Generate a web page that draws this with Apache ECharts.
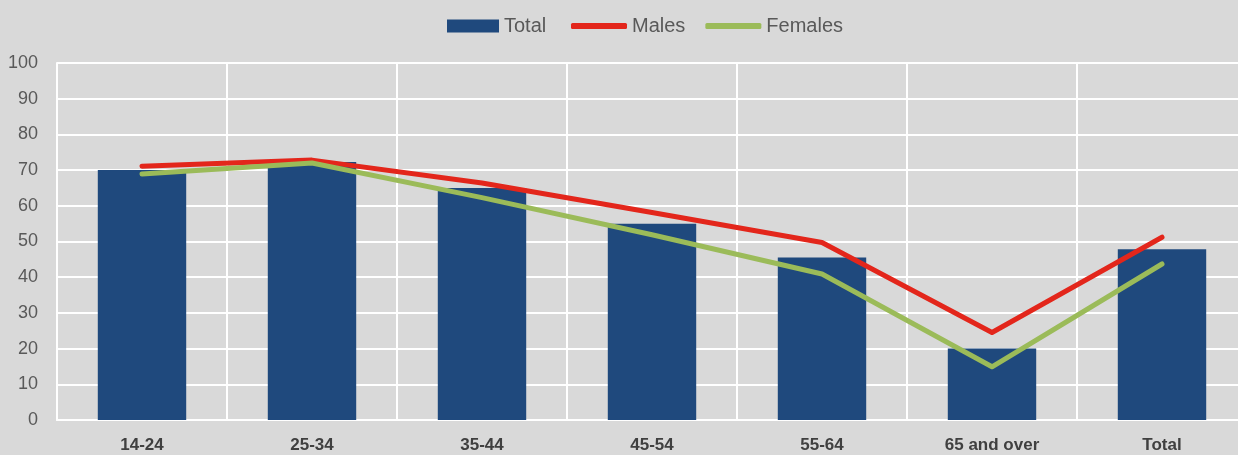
<!DOCTYPE html>
<html>
<head>
<meta charset="utf-8">
<script src="https://cdn.jsdelivr.net/npm/echarts@6/dist/echarts.min.js"></script>
<style>
  html, body { margin: 0; padding: 0; background: #d9d9d9; }
  #chart { width: 1238px; height: 455px; }
</style>
</head>
<body>
<div id="chart"></div>
<script>
// Age groups on the category axis
const categories = ['14-24', '25-34', '35-44', '45-54', '55-64', '65 and over', 'Total'];
// Rates (%) by age group
const totalValues = [70, 72.3, 65, 55, 45.5, 20, 47.8];
const maleValues = [71.1, 72.8, 66.4, 58.1, 49.7, 24.5, 51.2];
const femaleValues = [68.9, 72, 62.3, 51.9, 40.9, 14.9, 43.7];
const yTicks = { min: 0, max: 100, interval: 10 };

const fontFamily = '"Liberation Sans Narrow", "Arial Narrow", "Liberation Sans", Arial, sans-serif';
const legendText = { fontFamily: fontFamily, fontSize: 20, color: '#595959' };

const chart = echarts.init(document.getElementById('chart'), null, { renderer: 'canvas' });
chart.setOption({
  backgroundColor: '#d9d9d9',
  animation: false,
  textStyle: { fontFamily: fontFamily },
  legend: [
    {
      // bar key
      left: 447,
      top: 16,
      padding: 0,
      itemWidth: 52,
      itemHeight: 13,
      itemGap: 24,
      textStyle: legendText,
      data: [{ name: 'Total', icon: 'rect' }]
    },
    {
      // line keys
      left: 571,
      top: 16,
      padding: 0,
      itemWidth: 56,
      itemHeight: 6,
      itemGap: 20,
      textStyle: legendText,
      data: [
        { name: 'Males', icon: 'roundRect' },
        { name: 'Females', icon: 'roundRect' }
      ]
    }
  ],
  grid: { left: 57, top: 63, right: -9, bottom: 35, containLabel: false, outerBoundsMode: 'none' },
  xAxis: {
    type: 'category',
    data: categories,
    boundaryGap: true,
    axisLine: { show: true, lineStyle: { color: '#ffffff', width: 2 } },
    axisTick: { show: false },
    splitLine: { show: true, lineStyle: { color: '#ffffff', width: 2 } },
    axisLabel: { interval: 0, margin: 17, fontFamily: fontFamily, fontSize: 17, fontWeight: 'bold', color: '#404040' }
  },
  yAxis: {
    type: 'value',
    min: yTicks.min,
    max: yTicks.max,
    interval: yTicks.interval,
    axisLine: { show: true, lineStyle: { color: '#ffffff', width: 2 } },
    axisTick: { show: false },
    splitLine: { show: true, lineStyle: { color: '#ffffff', width: 2 } },
    axisLabel: { margin: 19, fontFamily: fontFamily, fontSize: 18, color: '#595959' }
  },
  series: [
    {
      name: 'Total',
      type: 'bar',
      data: totalValues,
      barWidth: '52%',
      itemStyle: { color: '#1f497d' }
    },
    {
      name: 'Males',
      type: 'line',
      data: maleValues,
      symbol: 'none',
      lineStyle: { color: '#e3261b', width: 5, cap: 'round', join: 'round' },
      itemStyle: { color: '#e3261b' }
    },
    {
      name: 'Females',
      type: 'line',
      data: femaleValues,
      symbol: 'none',
      lineStyle: { color: '#9bbb59', width: 5, cap: 'round', join: 'round' },
      itemStyle: { color: '#9bbb59' }
    }
  ]
});
</script>
</body>
</html>
